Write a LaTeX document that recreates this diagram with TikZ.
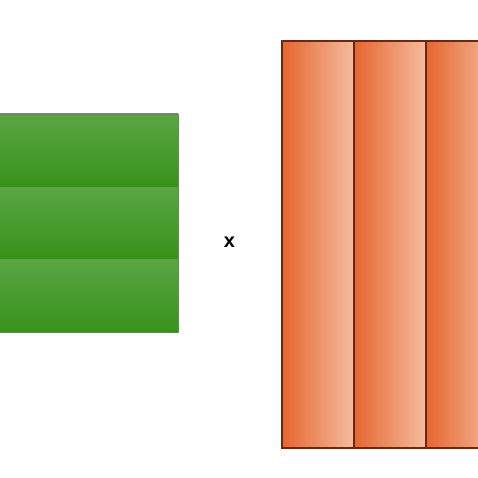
\documentclass[tikz,border=0pt]{standalone}
\usepackage{fontspec}
\setmainfont{Liberation Sans}
\definecolor{gtop}{HTML}{58A645}
\definecolor{gbot}{HTML}{389218}
\definecolor{gedge}{HTML}{5E8F50}
\definecolor{oleft}{HTML}{E66630}
\definecolor{oright}{HTML}{F4BC9E}
\definecolor{oedge}{HTML}{6A2810}
\tikzset{
  gstripe/.style={top color=gtop, bottom color=gbot, draw=none},
  ostripe/.style={left color=oleft, right color=oright, draw=oedge, line width=1.2pt},
}
\begin{document}
\begin{tikzpicture}[x=1pt,y=-1pt]
\useasboundingbox[fill=white] (0,0) rectangle (478,478);
% green block
\shade[gstripe] (-5,114) rectangle (178,187);
\shade[gstripe] (-5,187) rectangle (178,259);
\shade[gstripe] (-5,259) rectangle (178,332);
\draw[gedge, line width=0.6pt] (-5,114) rectangle (178,332);
% orange block
\shade[ostripe] (282,41) rectangle (354,448);
\shade[ostripe] (354,41) rectangle (426,448);
\shade[ostripe] (426,41) rectangle (498,448);
% multiplication sign
\node[font=\fontsize{20}{20}\selectfont\bfseries, inner sep=0pt] (times) at (229.5,242) {x};
\end{tikzpicture}
\end{document}
